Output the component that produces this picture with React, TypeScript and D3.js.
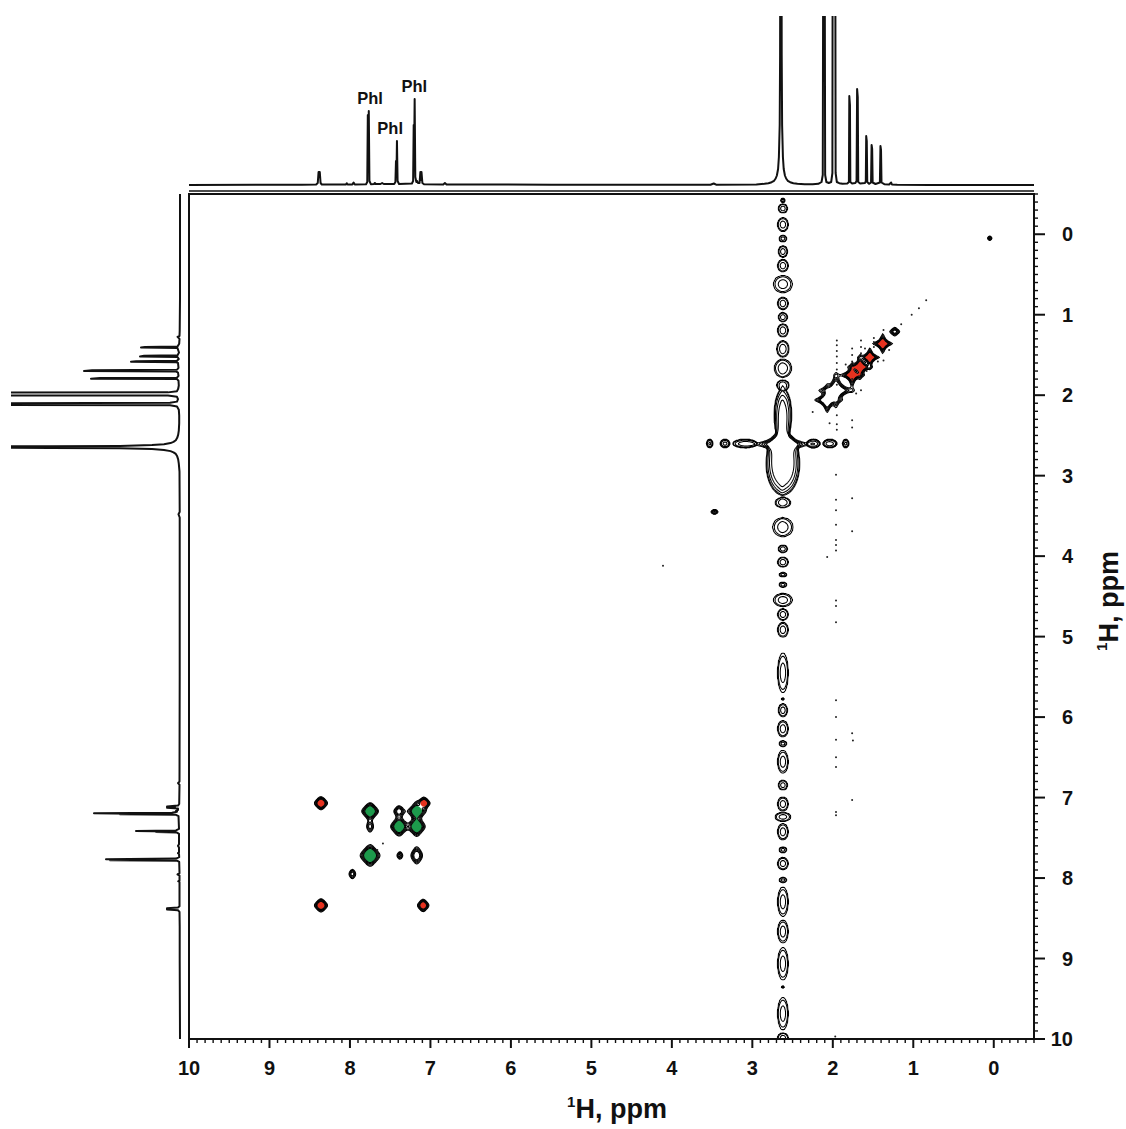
import React, { useMemo } from "react";
import * as d3 from "d3";

const WIDTH = 1126;
const HEIGHT = 1129;

// chemical-shift domains (ppm)
const F2_DOMAIN: [number, number] = [10, -0.5];
const F1_DOMAIN: [number, number] = [-0.5, 10];

const axisTickValues = [10, 9, 8, 7, 6, 5, 4, 3, 2, 1, 0];
const axisTickLabels = ["10", "9", "8", "7", "6", "5", "4", "3", "2", "1", "0"];
const axisTitleSup = "1";
const axisTitleMain = "H, ppm";

// 1D projection spectrum: [ppm, intensity]
const spectrum: [number, number][] = [
  [10.0, 0], [9.0, 0.3], [8.6, 0.3], [8.42, 0.5], [8.40, 2], [8.39, 13], [8.375, 13], [8.365, 2], [8.35, 0.5],
  [8.10, 0.5], [8.05, 0.5], [8.04, 1.8], [8.03, 0.5], [7.97, 0.5], [7.955, 2.5], [7.94, 0.5],
  [7.80, 0.8], [7.785, 3], [7.778, 70], [7.772, 20], [7.766, 74], [7.758, 4], [7.74, 0.8],
  [7.70, 1], [7.69, 2], [7.68, 1], [7.62, 1], [7.60, 2], [7.58, 1],
  [7.45, 1], [7.435, 3], [7.428, 24], [7.422, 10], [7.416, 44], [7.408, 4], [7.39, 1],
  [7.23, 1.5], [7.215, 4], [7.208, 60], [7.203, 28], [7.196, 86], [7.188, 8], [7.175, 3], [7.165, 4], [7.155, 2],
  [7.135, 2], [7.125, 13], [7.118, 5], [7.111, 13], [7.10, 2], [7.08, 0.8],
  [6.84, 0.5], [6.82, 2], [6.80, 0.5], [5.5, 0.3], [3.52, 0.3], [3.48, 1.5], [3.45, 0.3],
  [2.95, 0.5], [2.85, 1.2], [2.80, 1.8], [2.76, 2.8], [2.73, 4.2], [2.71, 6.5], [2.695, 9.5], [2.68, 16],
  [2.67, 28], [2.66, 60], [2.655, 130], [2.65, 400], [2.64, 400], [2.635, 130], [2.63, 60], [2.62, 28],
  [2.61, 16], [2.595, 9.5], [2.58, 6.5], [2.56, 4.2], [2.53, 2.8], [2.49, 1.8], [2.44, 1.2], [2.35, 0.8],
  [2.25, 0.8], [2.18, 1.2], [2.14, 3], [2.125, 10], [2.115, 400], [2.105, 400], [2.095, 10], [2.08, 3],
  [2.05, 2], [2.02, 3], [2.005, 12], [2.0, 400], [1.972, 400], [1.965, 12], [1.95, 3], [1.92, 1.8], [1.88, 1.2],
  [1.82, 1.5], [1.80, 3], [1.795, 89], [1.787, 80], [1.782, 3], [1.76, 1.5],
  [1.72, 2], [1.705, 4], [1.698, 96], [1.69, 88], [1.684, 3], [1.66, 1.5],
  [1.60, 2], [1.59, 4], [1.585, 49], [1.578, 44], [1.572, 3], [1.55, 1.2],
  [1.525, 2.5], [1.518, 40], [1.511, 36], [1.505, 2.5], [1.47, 1],
  [1.415, 2.5], [1.408, 39], [1.401, 35], [1.395, 2.5], [1.36, 0.8], [1.30, 0.5],
  [1.275, 2.5], [1.265, 0.5], [1.2, 0.3], [0.8, 0], [-0.5, 0],
];

const peakLabels: { text: string; ppm: number; intensity: number }[] = [
  { text: "Phl", ppm: 7.75, intensity: 74 },
  { text: "Phl", ppm: 7.5, intensity: 44 },
  { text: "Phl", ppm: 7.2, intensity: 86 },
];

// aromatic cross peaks (rounded line shape): [F2, F1, amplitude, width F2, width F1, phase colour]
const aromaticPeaks: [number, number, number, number, number, string][] = [
  [7.75, 7.17, 10, 0.07, 0.072, "g"],
  [7.39, 7.17, 4, 0.06, 0.065, "k"],
  [7.17, 7.17, 10, 0.07, 0.07, "g"],
  [8.36, 7.07, 8, 0.06, 0.06, "r"],
  [7.08, 7.07, 8, 0.055, 0.055, "r"],
  [7.75, 7.36, 2.6, 0.05, 0.08, "k"],
  [7.39, 7.36, 10, 0.07, 0.08, "g"],
  [7.17, 7.36, 10, 0.07, 0.08, "g"],
  [7.75, 7.72, 12, 0.078, 0.085, "g"],
  [7.38, 7.72, 2.4, 0.045, 0.06, "k"],
  [7.17, 7.72, 4.8, 0.065, 0.095, "k"],
  [7.97, 7.95, 2.8, 0.05, 0.07, "k"],
  [8.36, 8.34, 8, 0.06, 0.06, "r"],
  [7.09, 8.34, 7, 0.055, 0.06, "r"],
  [3.47, 3.45, 3, 0.05, 0.035, "k"],
  [0.05, 0.05, 2.5, 0.035, 0.035, "k"],
];

// aliphatic diagonal peaks (star line shape): [F2, F1, amplitude, width F2, width F1, phase colour]
const diagonalPeaks: [number, number, number, number, number, string][] = [
  [2.07, 2.06, 30, 0.028, 0.028, "k"],
  [1.96, 1.94, 40, 0.032, 0.032, "k"],
  [1.76, 1.75, 30, 0.024, 0.024, "r"],
  [1.66, 1.65, 30, 0.024, 0.024, "r"],
  [1.54, 1.53, 24, 0.023, 0.023, "r"],
  [1.38, 1.36, 24, 0.024, 0.024, "r"],
  [1.23, 1.21, 4, 0.035, 0.03, "k"],
  [2.63, 2.61, 90, 0.035, 0.035, "k"],
];

// broad ridges of the solvent peak: [F2, F1, half-width F2, half-width F1, amplitude]
const ridges: [number, number, number, number, number][] = [
  [2.62, 2.24, 0.11, 0.32, 3],
  [2.62, 2.86, 0.21, 0.38, 4],
];

// t1 noise along F1 = 2.60 : [F2 start, F2 end]
const horizontalStreak: [number, number][] = [
  [3.57, 3.49], [3.40, 3.28], [3.24, 2.95], [2.32, 2.16], [2.12, 1.95], [1.88, 1.80],
];
const horizontalStreakF1 = 2.6;

// t1 noise along F2 = 2.62 : [F1 start, F1 end, half-width]
const verticalStreakF2 = 2.62;
const verticalStreak: [number, number, number][] = [
  [-0.45, -0.39, 0.03], [-0.38, -0.26, 0.06], [-0.21, -0.03, 0.07], [0.01, 0.10, 0.05], [0.14, 0.29, 0.06],
  [0.31, 0.47, 0.07], [0.51, 0.73, 0.12], [0.78, 0.94, 0.07], [0.97, 1.09, 0.06], [1.11, 1.28, 0.07],
  [1.32, 1.53, 0.08], [1.55, 1.78, 0.11], [1.81, 1.94, 0.08],
  [3.27, 3.40, 0.10], [3.52, 3.76, 0.13], [3.86, 3.96, 0.06], [4.01, 4.14, 0.07], [4.20, 4.26, 0.05],
  [4.32, 4.39, 0.05], [4.46, 4.63, 0.12], [4.65, 4.80, 0.07], [4.82, 5.01, 0.07], [5.20, 5.70, 0.07],
  [5.76, 5.79, 0.02], [5.83, 6.00, 0.06], [6.04, 6.25, 0.07], [6.29, 6.37, 0.05], [6.41, 6.70, 0.07],
  [6.78, 6.91, 0.06], [6.99, 7.17, 0.07], [7.18, 7.30, 0.10], [7.32, 7.53, 0.07], [7.61, 7.69, 0.05],
  [7.74, 7.90, 0.07], [7.99, 8.06, 0.05], [8.11, 8.48, 0.07], [8.52, 8.81, 0.07], [8.86, 9.27, 0.07],
  [9.34, 9.37, 0.02], [9.48, 9.89, 0.07], [9.92, 10.05, 0.07],
];

// isolated noise specks: [F2, F1]
const noiseDots: [number, number][] = [
  [1.95, 1.32], [1.95, 1.38], [1.95, 1.45], [1.95, 1.52], [1.95, 1.6], [1.95, 1.68], [1.95, 1.8], [1.95, 1.87],
  [1.95, 2.25], [1.95, 2.36], [1.95, 2.43], [1.96, 2.99], [1.96, 3.3], [1.96, 3.43], [1.96, 3.61], [1.96, 3.8],
  [1.96, 3.86], [1.96, 3.93], [1.96, 4.55], [1.96, 4.62], [1.96, 4.82], [1.96, 5.79], [1.96, 6.0], [1.96, 6.28],
  [1.96, 6.5], [1.96, 6.62], [1.96, 7.18], [1.96, 7.22], [1.97, 9.97],
  [1.76, 1.42], [1.76, 1.5], [1.76, 1.58], [1.76, 1.8], [1.76, 1.88], [1.76, 2.31], [1.76, 2.4],
  [1.76, 3.28], [1.76, 3.69], [1.76, 6.2], [1.75, 6.29], [1.76, 7.03],
  [1.65, 1.32], [1.65, 1.4], [1.65, 1.48], [1.65, 1.56], [1.49, 1.29], [1.49, 1.34], [1.49, 1.4],
  [1.37, 1.19], [1.37, 1.27], [1.37, 1.45], [1.37, 1.57],
  [1.71, 1.98], [1.65, 1.94], [1.84, 1.62], [1.58, 1.70], [1.44, 1.58], [1.30, 1.44], [1.60, 1.42],
  [2.25, 2.21], [2.04, 2.35], [1.15, 1.12], [1.02, 1.0], [0.93, 0.92], [0.84, 0.82],
  [4.11, 4.12], [2.07, 4.01], [7.59, 7.57], [7.66, 7.65],
];

const LEVELS = [1, 1.3, 1.7, 2.2, 2.8];
const FILL_LEVEL = 2.8;
const GREEN = "#1d9a4c";
const RED = "#e6321f";
const FONT = "'Liberation Sans', Arial, Helvetica, sans-serif";

// layout
const PL = 189, PR = 1034, PT = 194, PB = 1039;

export default function App() {
  const xs = d3.scaleLinear().domain(F2_DOMAIN).range([PL, PR]);
  const ys = d3.scaleLinear().domain(F1_DOMAIN).range([PT, PB]);
  const topInt = d3.scaleLinear().domain([0, 169]).range([185, 16]);
  const leftInt = d3.scaleLinear().domain([0, 169]).range([180, 11]);

  const layers = useMemo(() => {
    const NX = PR - PL, NY = PB - PT;
    const total = new Float64Array(NX * NY);
    const green = new Float64Array(NX * NY);
    const red = new Float64Array(NX * NY);
    const pxX = Math.abs(xs(0) - xs(1));
    const pxY = Math.abs(ys(1) - ys(0));

    const addStar = (g: Float64Array, cx: number, cy: number, a: number, wx: number, wy: number, q: number) => {
      const reach = Math.pow(a / 0.005, 1 / (2 * q));
      const i0 = Math.max(0, Math.floor(cx - PL - reach * wx));
      const i1 = Math.min(NX - 1, Math.ceil(cx - PL + reach * wx));
      const j0 = Math.max(0, Math.floor(cy - PT - reach * wy));
      const j1 = Math.min(NY - 1, Math.ceil(cy - PT + reach * wy));
      for (let j = j0; j <= j1; j++) {
        const dy = (PT + j + 0.5 - cy) / wy;
        const ly = 1 + dy * dy;
        const row = j * NX;
        for (let i = i0; i <= i1; i++) {
          const dx = (PL + i + 0.5 - cx) / wx;
          const p = ly * (1 + dx * dx);
          g[row + i] += q === 1 ? a / p : a / (p * p);
        }
      }
    };
    const addBlob = (g: Float64Array, cx: number, cy: number, hw: number, hh: number, a: number) => {
      const lim = 1.35;
      const i0 = Math.max(0, Math.floor(cx - PL - hw * lim - 1));
      const i1 = Math.min(NX - 1, Math.ceil(cx - PL + hw * lim + 1));
      const j0 = Math.max(0, Math.floor(cy - PT - hh * lim - 1));
      const j1 = Math.min(NY - 1, Math.ceil(cy - PT + hh * lim + 1));
      for (let j = j0; j <= j1; j++) {
        const v = (PT + j + 0.5 - cy) / hh;
        const row = j * NX;
        for (let i = i0; i <= i1; i++) {
          const u = (PL + i + 0.5 - cx) / hw;
          const s = u * u + v * v;
          if (s > 1.8) continue;
          g[row + i] += s < 1 ? 1 + (a - 1) * (1 - s) : Math.exp(-10 * (s - 1));
        }
      }
    };

    const addPeaks = (list: [number, number, number, number, number, string][], q: number) =>
      list.forEach(([f2, f1, a, w2, w1, c]) => {
        const cx = xs(f2), cy = ys(f1), wx = w2 * pxX, wy = w1 * pxY;
        addStar(total, cx, cy, a, wx, wy, q);
        if (c === "g") addStar(green, cx, cy, a, wx, wy, q);
        if (c === "r") addStar(red, cx, cy, a, wx, wy, q);
      });
    addPeaks(aromaticPeaks, 2);
    addPeaks(diagonalPeaks, 1);
    ridges.forEach(([f2, f1, h2, h1, a]) => addBlob(total, xs(f2), ys(f1), h2 * pxX, h1 * pxY, a));
    horizontalStreak.forEach(([a0, a1]) => {
      addBlob(total, (xs(a0) + xs(a1)) / 2, ys(horizontalStreakF1), Math.abs(xs(a1) - xs(a0)) / 2, 0.055 * pxY, 2.2);
    });
    verticalStreak.forEach(([b0, b1, hw]) => {
      addBlob(total, xs(verticalStreakF2), (ys(b0) + ys(b1)) / 2, hw * pxX, Math.abs(ys(b1) - ys(b0)) / 2, 1.9);
    });

    const path = d3.geoPath(d3.geoIdentity().translate([PL, PT]) as any);
    const gen = d3.contours().size([NX, NY]);
    const black = gen.thresholds(LEVELS)(total as any).map((c) => path(c as any) || "");
    const gFill = gen.thresholds([FILL_LEVEL])(green as any).map((c) => path(c as any) || "");
    const rFill = gen.thresholds([FILL_LEVEL])(red as any).map((c) => path(c as any) || "");
    return { black, gFill, rFill };
  }, []);

  const topLine = d3
    .line<[number, number]>()
    .x((d) => xs(d[0]))
    .y((d) => topInt(d[1]));
  const leftLine = d3
    .line<[number, number]>()
    .x((d) => leftInt(d[1]))
    .y((d) => ys(d[0]));

  const minor = d3.range(-5, 101).map((i) => i / 10);

  return (
    <svg width={WIDTH} height={HEIGHT} style={{ position: "absolute", left: 0, top: 0, background: "#fff" }}>
      <defs>
        <clipPath id="clipTop"><rect x={PL - 2} y={16} width={PR - PL + 4} height={172} /></clipPath>
        <clipPath id="clipLeft"><rect x={11} y={PT} width={172} height={PB - PT} /></clipPath>
        <clipPath id="clip2d"><rect x={PL} y={PT} width={PR - PL} height={PB - PT} /></clipPath>
      </defs>
      <rect x={0} y={0} width={WIDTH} height={HEIGHT} fill="#fff" />

      {/* projections */}
      <g clipPath="url(#clipTop)">
        <path d={topLine(spectrum) || ""} fill="none" stroke="#111" strokeWidth={2} strokeLinejoin="round" />
      </g>
      <g clipPath="url(#clipLeft)">
        <path d={leftLine(spectrum) || ""} fill="none" stroke="#111" strokeWidth={2} strokeLinejoin="round" />
      </g>
      {peakLabels.map((l, i) => (
        <text key={i} x={xs(l.ppm)} y={topInt(l.intensity) - 7} textAnchor="middle" fontFamily={FONT}
          fontWeight="bold" fontSize={16.5} fill="#111">{l.text}</text>
      ))}
      <line x1={PL} x2={PR} y1={191} y2={191} stroke="#111" strokeWidth={1.3} />

      {/* 2D contours */}
      <g clipPath="url(#clip2d)">
        {layers.gFill.map((d, i) => <path key={"g" + i} d={d} fill={GREEN} stroke="none" />)}
        {layers.rFill.map((d, i) => <path key={"r" + i} d={d} fill={RED} stroke="none" />)}
        {layers.black.map((d, i) => <path key={"k" + i} d={d} fill="none" stroke="#000" strokeWidth={1.05} />)}
        {noiseDots.map(([a, b], i) => <circle key={"n" + i} cx={xs(a)} cy={ys(b)} r={1} fill="#222" />)}
      </g>

      {/* frame */}
      <rect x={PL} y={PT} width={PR - PL} height={PB - PT} fill="none" stroke="#111" strokeWidth={2} />

      {/* bottom axis */}
      {minor.map((v, i) => (
        <line key={"bx" + i} x1={xs(v)} x2={xs(v)} y1={PB} y2={PB + (Math.round(v * 10) % 10 === 0 ? 9 : 4)}
          stroke="#111" strokeWidth={Math.round(v * 10) % 10 === 0 ? 2 : 1.4} />
      ))}
      {axisTickValues.map((v, i) => (
        <text key={"bl" + i} x={xs(v)} y={1075} textAnchor="middle" fontFamily={FONT} fontWeight="bold"
          fontSize={20} fill="#111">{axisTickLabels[i]}</text>
      ))}
      <text x={617} y={1118} textAnchor="middle" fontFamily={FONT} fontWeight="bold" fill="#111">
        <tspan fontSize={15} dy={-11}>{axisTitleSup}</tspan>
        <tspan fontSize={27} dy={11}>{axisTitleMain}</tspan>
      </text>

      {/* right axis */}
      {minor.map((v, i) => (
        <line key={"ry" + i} y1={ys(v)} y2={ys(v)} x1={PR} x2={PR + (Math.round(v * 10) % 10 === 0 ? 11 : 4)}
          stroke="#111" strokeWidth={Math.round(v * 10) % 10 === 0 ? 2 : 1.4} />
      ))}
      {axisTickValues.map((v, i) => (
        <text key={"rl" + i} x={1073} y={ys(v) + 7} textAnchor="end" fontFamily={FONT} fontWeight="bold"
          fontSize={20} fill="#111">{axisTickLabels[i]}</text>
      ))}
      <text transform="translate(1118,601) rotate(-90)" textAnchor="middle" fontFamily={FONT} fontWeight="bold" fill="#111">
        <tspan fontSize={15} dy={-11}>{axisTitleSup}</tspan>
        <tspan fontSize={27} dy={11}>{axisTitleMain}</tspan>
      </text>
    </svg>
  );
}
